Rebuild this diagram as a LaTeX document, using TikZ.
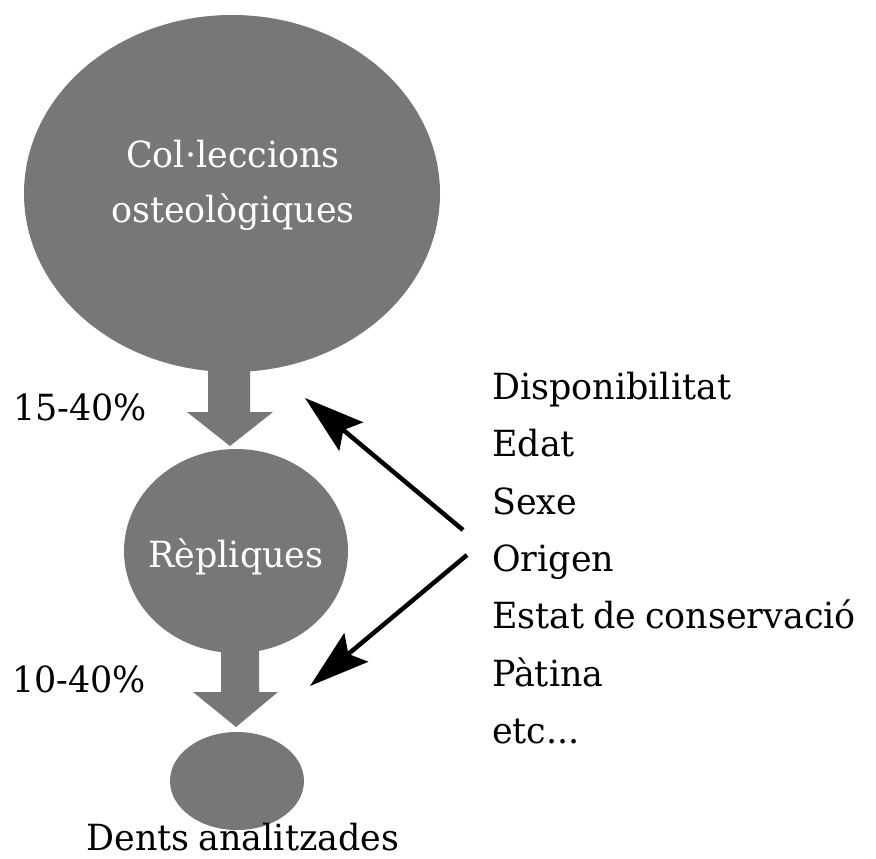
\documentclass[tikz,border=0pt]{standalone}
\usepackage{fontspec}
\setmainfont{DejaVu Serif}[FakeStretch=0.97,WordSpace=0.8]
\usetikzlibrary{shapes.geometric,arrows.meta}
\definecolor{blobgray}{RGB}{119,119,119}
\begin{document}
\begin{tikzpicture}[x=1pt,y=-1pt,
  blob/.style={ellipse, fill=blobgray, inner sep=0pt, draw=none},
  flow/.style={fill=blobgray},
  lbl/.style={font=\fontsize{36}{42}\selectfont, inner sep=0pt, text=black},
  inlbl/.style={lbl, text=white},
  ptr/.style={line width=4.5pt, -{Stealth[length=60pt,width=37pt,inset=10pt]}}]
\useasboundingbox (0,0) rectangle (876,859);
% block arrows (behind the blobs)
\fill[flow] (208,360) -- (250,360) -- (250,412) -- (273,412) -- (230,446) -- (187,412) -- (208,412) -- cycle;
\fill[flow] (221,640) -- (259,640) -- (259,692) -- (278,692) -- (236,727) -- (193,692) -- (221,692) -- cycle;
% blobs
\node[blob, minimum width=416pt, minimum height=357pt] (coll) at (232,193.5) {};
\node[blob, minimum width=224pt, minimum height=204pt] (rep) at (236,551) {};
\node[blob, minimum width=134pt, minimum height=98pt] (dents) at (237,781) {};
% inner texts
\node[inlbl, anchor=base] (coll1) at (233,167) {Col·leccions};
\node[inlbl, anchor=base] (coll2) at (233,222) {osteològiques};
\node[inlbl, anchor=base] (replbl) at (236,567) {Rèpliques};
\node[lbl, anchor=base] (dentslbl) at (243,850) {Dents analitzades};
% percentages
\node[lbl, anchor=base west] (p1) at (13,420) {15-40\%};
\node[lbl, anchor=base west] (p2) at (12,692) {10-40\%};
% factor list
\node[lbl, anchor=base west] (f1) at (492,399) {Disponibilitat};
\node[lbl, anchor=base west] (f2) at (492,456) {Edat};
\node[lbl, anchor=base west] (f3) at (492,514) {Sexe};
\node[lbl, anchor=base west] (f4) at (492,571) {Origen};
\node[lbl, anchor=base west] (f5) at (492,628) {Estat de conservació};
\node[lbl, anchor=base west] (f6) at (492,686) {Pàtina};
\node[lbl, anchor=base west] (f7) at (492,743) {etc...};
% pointer arrows
\coordinate (s1) at (463,530);
\coordinate (t1) at (305,398);
\coordinate (s2) at (467,555);
\coordinate (t2) at (310,686);
\draw[ptr] (s1) -- (t1);
\draw[ptr] (s2) -- (t2);
\end{tikzpicture}
\end{document}
